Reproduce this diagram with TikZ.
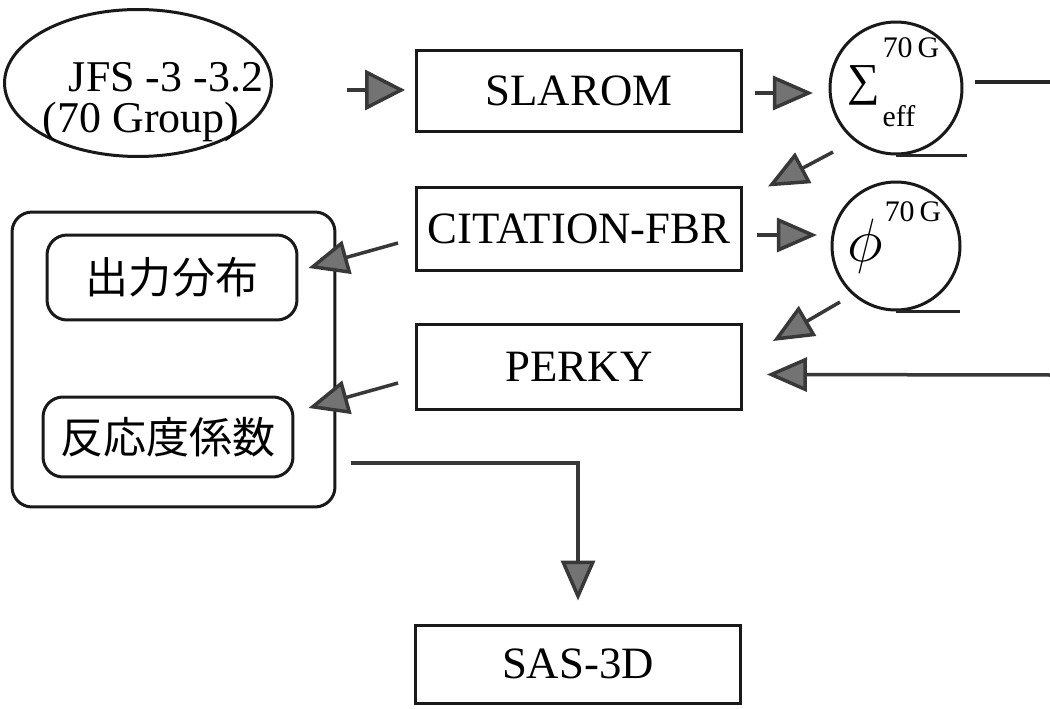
\documentclass[tikz,border=0pt]{standalone}
\usepackage{fontspec}
\usepackage{graphicx}
\setmainfont{Liberation Serif}
\newfontfamily\cjk{Noto Sans CJK JP}
\usetikzlibrary{arrows.meta,shapes.geometric,calc}
\begin{document}
\begin{tikzpicture}[x=0.02cm,y=-0.02cm,
 box/.style={draw=black!90, line width=0.06cm, minimum width=6.5cm, inner sep=0pt, font=\fontsize{25.5}{30}\selectfont},
 rbox/.style={draw=black!90, line width=0.06cm, rounded corners=0.4cm, inner sep=0pt},
 arr/.style={draw=black!78, line width=0.07cm, -{Triangle[length=0.8cm,width=0.68cm,fill=black!55]}},
 plainline/.style={draw=black!85, line width=0.07cm},
 circ/.style={draw=black!90, line width=0.06cm, circle, inner sep=0pt},
 lbl/.style={inner sep=0pt, font=\fontsize{25}{30}\selectfont},
 suptxt/.style={inner sep=0pt, font=\fontsize{17}{20}\selectfont},
 cjktxt/.style={inner sep=0pt, font=\cjk\fontsize{24.5}{28}\selectfont}
]
\useasboundingbox (0,0) rectangle (1050,709);
% input ellipse
\node[draw=black!90, line width=0.06cm, ellipse, minimum width=5.34cm, minimum height=2.94cm, inner sep=0pt] (jfs) at (138,83) {};
\node[lbl, anchor=base, text depth=0pt] (jfs1) at (166,92) {JFS -3 -3.2};
\node[lbl, anchor=base, text height=0.5cm] (jfs2) at (141,133) {(70 Group)};
% boxes
\node[box, minimum height=1.64cm] (slarom) at (579,91) {SLAROM};
\node[box, minimum height=1.68cm] (citation) at (579,229) {CITATION-FBR};
\node[box, minimum height=1.70cm] (perky) at (579,367) {PERKY};
\node[box, minimum height=1.56cm] (sas) at (578,664) {SAS-3D};
% circles
\node[circ, minimum size=2.64cm] (sigma) at (896,88) {};
\node[inner sep=0pt, font=\fontsize{26}{30}\selectfont] (sigsym) at (864,85) {∑};
\node[suptxt, anchor=base] (sigsup) at (911,58) {70\,G};
\node[suptxt, anchor=base] (sigsub) at (899,127) {eff};
\node[circ, minimum size=2.56cm] (phi) at (896,246) {};
\node[inner sep=0pt, font=\fontsize{24.88}{30}\selectfont] (phisym) at (865,246) {\scalebox{1.4}{$\phi$}};
\node[suptxt, anchor=base] (phisup) at (913,222) {70\,G};
\draw[plainline] (sigma.south) -- ++(71,0);
\draw[plainline] (phi.south) -- ++(64,0);
% output container
\node[rbox, minimum width=6.46cm, minimum height=5.9cm] (cont) at (173.5,359.5) {};
\node[rbox, cjktxt, minimum width=5.0cm, minimum height=1.70cm] (out1) at (172,277.5) {出力分布};
\node[rbox, cjktxt, minimum width=5.0cm, minimum height=1.60cm] (out2) at (168,437) {反応度係数};
% right edge coordinates
\coordinate (rout) at (1050,82);
\coordinate (rin) at (1050,375);
% connectors
\draw[arr, -{Triangle[length=0.8cm,width=0.8cm,fill=black!55]}] ($(slarom.west)+(-68,-1)$) -- ($(slarom.west)+(-10,-1)$);
\draw[arr] ($(slarom.east)+(12,2)$) -- ($(slarom.east)+(70,2)$);
\draw[arr] ($(sigma.center)+(-63,64)$) -- ($(citation.north east)+(25,1)$);
\draw[arr] ($(citation.east)+(14,6)$) -- ($(citation.east)+(74,6)$);
\draw[arr] ($(phi.center)+(-56,56)$) -- ($(perky.north east)+(30,18)$);
\draw[arr] (rin) -- ($(perky.east)+(24,7.5)$);
\draw[plainline] ($(sigma.east)+(11,-6)$) -- (rout);
\draw[arr] ($(citation.west)+(-17,14)$) -- ($(out1.east)+(10,-9.5)$);
\draw[arr] ($(perky.west)+(-17,16)$) -- ($(out2.east)+(14,-29)$);
\draw[arr] ($(cont.east)+(15,103.5)$) -| ($(sas.north)+(0,-23)$);
\end{tikzpicture}
\end{document}
